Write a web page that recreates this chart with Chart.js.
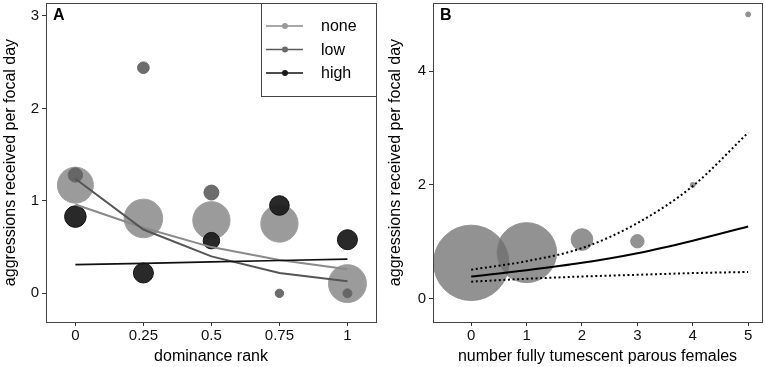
<!DOCTYPE html>
<html><head><meta charset="utf-8">
<script src="https://cdn.jsdelivr.net/npm/chart.js@4/dist/chart.umd.min.js"></script>
<style>
html,body{margin:0;padding:0;background:#fff;}
#wrap{position:relative;width:765px;height:367px;background:#fff;}
canvas{position:absolute;top:0;}
#ca{left:0;} #cb{left:385px;}
</style></head><body>
<div id="wrap"><canvas id="ca" width="380" height="367"></canvas><canvas id="cb" width="380" height="367"></canvas></div>
<script>
// ---------- Panel A data ----------
const rankCats = [0, 0.25, 0.5, 0.75, 1];
const rankTickLabels = ['0', '0.25', '0.5', '0.75', '1'];
const aYTicks = [0, 1, 2, 3];
const aYTickLabels = ['0', '1', '2', '3'];
const noneObs = [1.17, 0.81, 0.79, 0.755, 0.105];
const noneSize = [81, 93, 87, 87, 90];
const lowObs = [1.28, 2.44, 1.09, 0.0, 0.0];
const lowSize = [13, 8.5, 14, 4.4, 5];
const highObs = [0.83, 0.22, 0.57, 0.95, 0.58];
const highSize = [29, 25, 17, 24, 25];
const noneFit = [0.96, 0.71, 0.50, 0.36, 0.26];
const lowFit = [1.24, 0.69, 0.40, 0.22, 0.13];
const highFit = [0.31, 0.325, 0.34, 0.355, 0.37];
const legendLabels = ['none', 'low', 'high'];

// ---------- Panel B data ----------
const femCats = [0, 1, 2, 3, 4, 5];
const femTickLabels = ['0', '1', '2', '3', '4', '5'];
const bYTicks = [0, 2, 4];
const bYTickLabels = ['0', '2', '4'];
const femObs = [0.63, 0.81, 1.04, 1.01, 2.0, 5.0];
const femSize = [158, 100, 13, 5, 0.7, 0.7];
const femFit = [0.39, 0.50, 0.63, 0.80, 1.02, 1.27];
const femUpper = [0.51, 0.66, 0.89, 1.33, 1.98, 2.92];
const femLower = [0.30, 0.35, 0.39, 0.42, 0.45, 0.47];

const FONT = "'Liberation Sans', Arial, sans-serif";

function bubbles(xs, ys, sizes, k) {
  return xs.map((x, i) => ({ x: x, y: ys[i], r: Math.sqrt(sizes[i]) * k }));
}
function pts(xs, ys) { return xs.map((x, i) => ({ x: x, y: ys[i] })); }

function axis(min, max, tickVals, tickLabels, isX, title, fitSize) {
  return {
    type: 'linear', min: min, max: max,
    afterBuildTicks: s => { s.ticks = tickVals.map(v => ({ value: v })); },
    afterFit: s => {
      if (isX) s.height = fitSize; else s.width = fitSize;
      s.paddingTop = 0; s.paddingBottom = 0; s.paddingLeft = 0; s.paddingRight = 0;
    },
    ticks: {
      autoSkip: false, maxRotation: 0, color: '#111', padding: isX ? 1 : 3,
      font: { family: FONT, size: 15 },
      callback: (v, i) => tickLabels[i]
    },
    grid: { drawOnChartArea: false, drawTicks: true, tickLength: 4, color: '#333', lineWidth: 1 },
    border: { display: false },
    title: {
      display: true, text: title, color: '#000',
      font: { family: FONT, size: 16 },
      padding: isX ? { top: 0, bottom: 1 } : { top: 1, bottom: 0 }
    }
  };
}

function framePlugin(letter) {
  return {
    id: 'frame' + letter,
    afterDatasetsDraw(chart) {
      const a = chart.chartArea, ctx = chart.ctx;
      ctx.save();
      ctx.strokeStyle = '#444';
      ctx.lineWidth = 1;
      ctx.strokeRect(Math.round(a.left) + 0.5, Math.round(a.top) + 0.5,
        Math.round(a.right - a.left), Math.round(a.bottom - a.top));
      ctx.fillStyle = '#000';
      ctx.font = 'bold 16px ' + FONT;
      ctx.textBaseline = 'middle';
      ctx.textAlign = 'left';
      ctx.fillText(letter, a.left + 7, a.top + 13);
      ctx.restore();
    }
  };
}

const legendPlugin = {
  id: 'legA',
  afterDatasetsDraw(chart) {
    const a = chart.chartArea, ctx = chart.ctx;
    const cols = [['#8a8a8a', '#9a9a9a'], ['#5a5a5a', '#6a6a6a'], ['#111', '#1a1a1a']];
    const x0 = 261, y0 = Math.round(a.top), x1 = Math.round(a.right), y1 = 96;
    ctx.save();
    ctx.fillStyle = '#fff';
    ctx.fillRect(x0, y0, x1 - x0, y1 - y0);
    ctx.strokeStyle = '#444';
    ctx.lineWidth = 1;
    ctx.strokeRect(x0 + 0.5, y0 + 0.5, x1 - x0, y1 - y0);
    legendLabels.forEach((lab, i) => {
      const y = 26 + i * 23.5;
      ctx.strokeStyle = cols[i][0];
      ctx.lineWidth = 1.5;
      ctx.beginPath(); ctx.moveTo(266, y); ctx.lineTo(303, y); ctx.stroke();
      ctx.fillStyle = cols[i][1];
      ctx.beginPath(); ctx.arc(285, y, 3, 0, Math.PI * 2); ctx.fill();
      ctx.fillStyle = '#000';
      ctx.font = '16px ' + FONT;
      ctx.textBaseline = 'middle';
      ctx.textAlign = 'left';
      ctx.fillText(lab, 321, y + 1);
    });
    ctx.restore();
  }
};

const common = {
  responsive: false, animation: false, devicePixelRatio: 1,
  plugins: { legend: { display: false }, tooltip: { enabled: false } },
  events: []
};

// ---------- Chart A ----------
new Chart(document.getElementById('ca'), {
  data: {
    datasets: [
      { type: 'line', label: 'none fit', data: pts(rankCats, noneFit), borderColor: '#8a8a8a', borderWidth: 2, pointRadius: 0, order: 2 },
      { type: 'line', label: 'low fit', data: pts(rankCats, lowFit), borderColor: '#555', borderWidth: 2, pointRadius: 0, order: 1 },
      { type: 'line', label: 'high fit', data: pts(rankCats, highFit), borderColor: '#111', borderWidth: 1.7, pointRadius: 0, order: 0 },
      { type: 'bubble', label: 'high', data: bubbles(rankCats, highObs, highSize, 2), backgroundColor: 'rgba(30,30,30,0.95)', borderColor: '#111', borderWidth: 1, order: 3 },
      { type: 'bubble', label: 'low', data: bubbles(rankCats, lowObs, lowSize, 2), backgroundColor: 'rgba(100,100,100,0.95)', borderColor: '#666', borderWidth: 1, order: 4 },
      { type: 'bubble', label: 'none', data: bubbles(rankCats, noneObs, noneSize, 2), backgroundColor: 'rgba(150,150,150,0.95)', borderColor: '#a0a0a0', borderWidth: 1, order: 5 }
    ]
  },
  options: Object.assign({}, common, {
    layout: { autoPadding: false, padding: { left: 0, right: 4, top: 3, bottom: 0 } },
    scales: {
      x: axis(-0.108, 1.105, rankCats, rankTickLabels, true, 'dominance rank', 45),
      y: axis(-0.31, 3.14, aYTicks, aYTickLabels, false, 'aggressions received per focal day', 46)
    }
  }),
  plugins: [framePlugin('A'), legendPlugin]
});

// ---------- Chart B ----------
new Chart(document.getElementById('cb'), {
  data: {
    datasets: [
      { type: 'line', label: 'fit', data: pts(femCats, femFit), borderColor: '#000', borderWidth: 2, pointRadius: 0, cubicInterpolationMode: 'monotone', order: 0 },
      { type: 'line', label: 'upper', data: pts(femCats, femUpper), borderColor: '#000', borderWidth: 2, borderDash: [2, 2.6], pointRadius: 0, cubicInterpolationMode: 'monotone', order: 1 },
      { type: 'line', label: 'lower', data: pts(femCats, femLower), borderColor: '#000', borderWidth: 2, borderDash: [2, 2.6], pointRadius: 0, cubicInterpolationMode: 'monotone', order: 2 },
      { type: 'bubble', label: 'obs', data: bubbles(femCats, femObs, femSize, 3), backgroundColor: 'rgba(110,110,110,0.75)', borderColor: 'rgba(140,140,140,0.9)', borderWidth: 1, order: 3 }
    ]
  },
  options: Object.assign({}, common, {
    layout: { autoPadding: false, padding: { left: 0, right: 3, top: 3, bottom: 0 } },
    scales: {
      x: axis(-0.69, 5.25, femCats, femTickLabels, true, 'number fully tumescent parous females', 45),
      y: axis(-0.41, 5.2, bYTicks, bYTickLabels, false, 'aggressions received per focal day', 48)
    }
  }),
  plugins: [framePlugin('B')]
});
</script>
</body></html>
